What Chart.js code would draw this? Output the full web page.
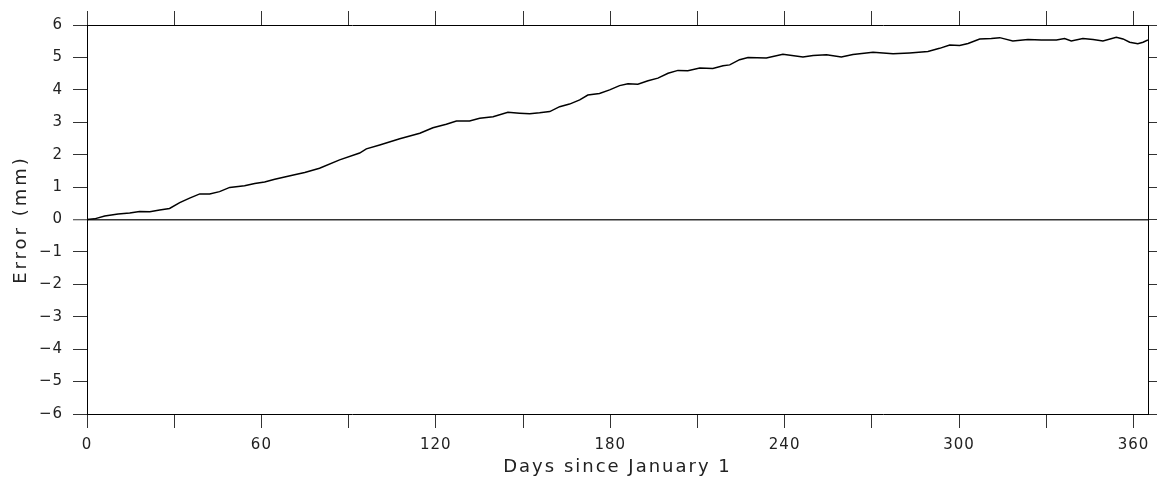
<!DOCTYPE html>
<html>
<head>
<meta charset="utf-8">
<script src="https://cdn.jsdelivr.net/npm/chart.js@4/dist/chart.umd.min.js"></script>
<style>
html,body{margin:0;padding:0;background:#fff;}
#wrap{width:1157px;height:484px;position:relative;}
</style>
</head>
<body>
<div id="wrap"><canvas id="c"></canvas></div>
<script>
const days = [0, 2.6, 6.1, 10.7, 14.7, 18.1, 21.6, 25, 28.4, 31.9, 35.3, 38.8, 42.2, 45.6, 49.1, 54.2, 57.7, 61.1, 64.6, 68, 71.4, 74.9, 80, 86.9, 93.8, 96.1, 100.7, 107.6, 114.5, 119, 123.6, 127.1, 131.6, 135.1, 139.7, 144.8, 148.8, 152.3, 155.7, 159.2, 162.6, 166, 169.5, 172.3, 176.3, 179.8, 183.2, 186.1, 189.5, 193, 196.4, 199.9, 203.3, 206.7, 210.8, 215.3, 218.8, 221.1, 224.5, 227.4, 233.7, 239.4, 246.3, 249.8, 254.4, 259.5, 263.5, 270.4, 277.3, 283, 289.3, 293.3, 296.8, 300.2, 303.1, 307.1, 311.1, 314, 318.5, 323.7, 328.3, 333.5, 336.3, 338.6, 342.6, 346.1, 349.5, 354.1, 356.4, 358.7, 361.5, 363.3, 365];
const errors = [0.00, 0.02, 0.11, 0.17, 0.20, 0.25, 0.24, 0.29, 0.34, 0.52, 0.66, 0.79, 0.79, 0.86, 0.99, 1.04, 1.11, 1.16, 1.24, 1.31, 1.38, 1.45, 1.58, 1.84, 2.05, 2.18, 2.30, 2.49, 2.66, 2.83, 2.94, 3.04, 3.04, 3.12, 3.17, 3.31, 3.28, 3.26, 3.29, 3.33, 3.48, 3.56, 3.69, 3.84, 3.89, 4.00, 4.13, 4.19, 4.17, 4.28, 4.36, 4.51, 4.60, 4.59, 4.67, 4.66, 4.74, 4.77, 4.93, 5.00, 4.98, 5.10, 5.01, 5.06, 5.08, 5.01, 5.09, 5.16, 5.11, 5.14, 5.18, 5.28, 5.38, 5.37, 5.43, 5.57, 5.58, 5.61, 5.51, 5.55, 5.54, 5.54, 5.58, 5.51, 5.58, 5.55, 5.51, 5.62, 5.57, 5.47, 5.42, 5.47, 5.54];
const xMin = 0, xMax = 365, xStep = 30, xLabelStep = 60;
const yMin = -6, yMax = 6, yStep = 1;
const xTitle = 'Days since January 1';
const yTitle = 'Error (mm)';

Chart.defaults.font.family = "'DejaVu Sans', sans-serif";
Chart.defaults.color = '#222';

const tickFont = {size: 15};
const titleFont = {size: 18};

function spaced(s, labelSpacing, titleSpacing) {
  const proto = Object.getPrototypeOf(s);
  s.drawLabels = function (area) {
    const ctx = this.ctx, old = ctx.letterSpacing;
    ctx.letterSpacing = labelSpacing;
    proto.drawLabels.call(this, area);
    ctx.letterSpacing = old;
  };
  s.drawTitle = function () {
    const ctx = this.ctx, old = ctx.letterSpacing;
    ctx.letterSpacing = titleSpacing;
    proto.drawTitle.call(this);
    ctx.letterSpacing = old;
  };
}

new Chart(document.getElementById('c'), {
  type: 'line',
  data: {
    datasets: [{
      data: days.map((d, i) => ({x: d, y: errors[i]})),
      borderColor: '#000',
      borderWidth: 1.5,
      pointRadius: 0,
      tension: 0,
      fill: false,
      xAxisID: 'x',
      yAxisID: 'y'
    }]
  },
  options: {
    responsive: true,
    maintainAspectRatio: false,
    animation: false,
    layout: {padding: 0},
    plugins: {legend: {display: false}, tooltip: {enabled: false}},
    scales: {
      x: {
        type: 'linear', position: 'bottom', min: xMin, max: xMax,
        ticks: {stepSize: xStep, includeBounds: false, autoSkip: false, maxRotation: 0, font: tickFont, color: '#222', padding: 8,
          callback: v => (v % xLabelStep === 0 ? String(v) : '')},
        grid: {drawOnChartArea: false, tickLength: 14, color: '#333', tickWidth: 1},
        border: {display: true, color: '#000', width: 1},
        title: {display: true, text: xTitle, font: titleFont, color: '#222', padding: {top: 0, bottom: 6}},
        afterFit: s => { s.height = 70; spaced(s, '1px', '2px'); }
      },
      x2: {
        type: 'linear', position: 'top', min: xMin, max: xMax,
        ticks: {display: false, stepSize: xStep, includeBounds: false},
        grid: {drawOnChartArea: false, tickLength: 14, color: '#333', tickWidth: 1},
        border: {display: true, color: '#000', width: 1},
        afterFit: s => { s.height = 25; }
      },
      y: {
        type: 'linear', position: 'left', min: yMin, max: yMax,
        ticks: {stepSize: yStep, font: tickFont, color: '#222', padding: 10,
          callback: v => (v < 0 ? '\u2212' + (-v) : String(v))},
        grid: {
          drawOnChartArea: true, tickLength: 14,
          color: c => (c.tick && c.tick.value === 0 ? '#333' : 'rgba(0,0,0,0)'),
          lineWidth: c => (c.tick && c.tick.value === 0 ? 1.5 : 1),
          tickColor: '#333', tickWidth: 1
        },
        border: {display: true, color: '#000', width: 1},
        title: {display: true, text: yTitle, font: titleFont, color: '#222', padding: {top: 11, bottom: 0}},
        afterFit: s => { s.width = 87; spaced(s, '1px', '3px'); }
      },
      y2: {
        type: 'linear', position: 'right', min: yMin, max: yMax,
        ticks: {display: false, stepSize: yStep},
        grid: {drawOnChartArea: false, tickLength: 9, color: '#333', tickWidth: 1},
        border: {display: true, color: '#000', width: 1},
        afterFit: s => { s.width = 9; }
      }
    }
  }
});
</script>
</body>
</html>
